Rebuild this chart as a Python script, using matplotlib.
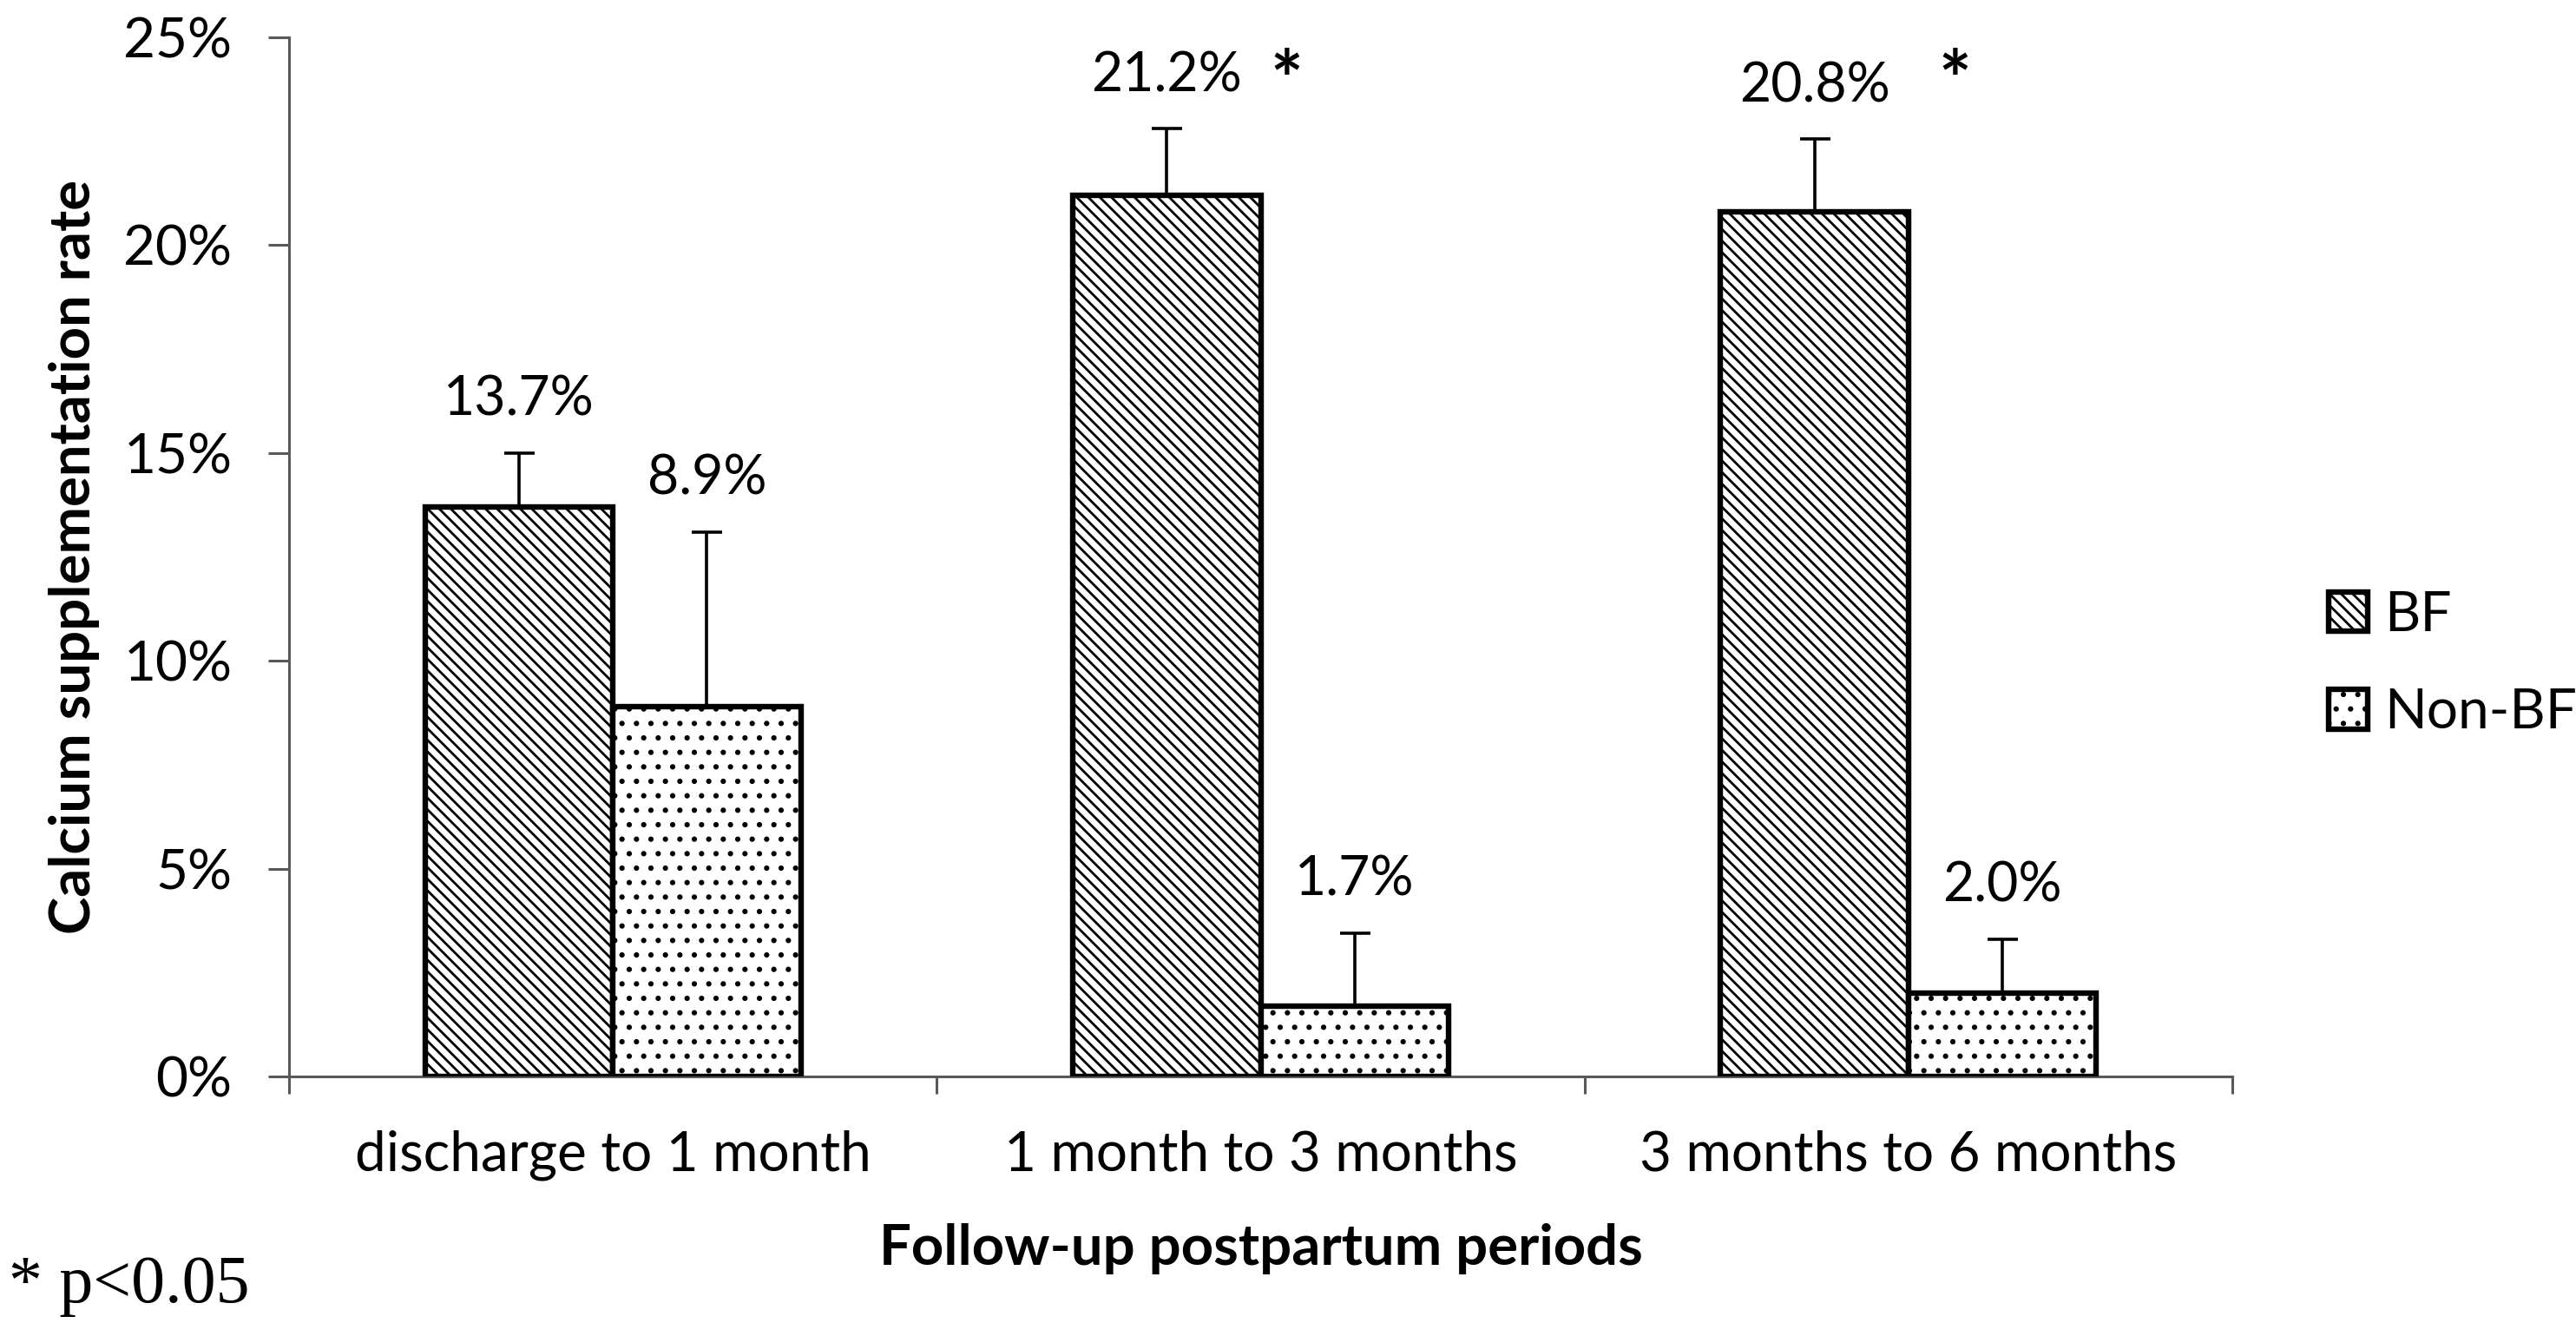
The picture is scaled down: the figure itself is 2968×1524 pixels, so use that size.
# Calcium supplementation rate, BF vs Non-BF, by postpartum period
import numpy as np
import matplotlib
matplotlib.use('Agg')
import matplotlib.pyplot as plt

periods = ['discharge to 1 month', '1 month to 3 months', '3 months to 6 months']
bf_rate = [13.7, 21.2, 20.8]
nonbf_rate = [8.9, 1.7, 2.0]
bf_err = [1.3, 1.6, 1.75]
nonbf_err = [4.2, 1.75, 1.3]
significant = [False, True, True]
yticks = [0, 5, 10, 15, 20, 25]

plt.rcParams['font.family'] = ['Lato', 'DejaVu Sans']
plt.rcParams['hatch.linewidth'] = 1.0

FS = 23
FS_VAL = 22.5
FS_BOLD = 23.5
AXIS_GREY = '#595959'

fig = plt.figure(figsize=(14.84, 7.62), dpi=200)
ax = fig.add_axes([0.1122, 0.1864, 0.7544, 0.7854])

x = np.arange(len(periods))
w = 0.29

bars_bf = ax.bar(x - w / 2, bf_rate, w, color='white', edgecolor='black',
                 linewidth=2.3, hatch='\\\\\\\\\\', label='BF', zorder=3)
bars_nbf = ax.bar(x + w / 2, nonbf_rate, w, color='white', edgecolor='black',
                  linewidth=2.3, hatch='..', label='Non-BF', zorder=3)

# upper error bars only
ax.errorbar(x - w / 2, bf_rate, yerr=[np.zeros(3), bf_err], fmt='none',
            ecolor='black', elinewidth=1.3, capsize=6.3, capthick=1.3, zorder=2)
ax.errorbar(x + w / 2, nonbf_rate, yerr=[np.zeros(3), nonbf_err], fmt='none',
            ecolor='black', elinewidth=1.3, capsize=6.3, capthick=1.3, zorder=2)

# value labels above the error bars
for xs, vals, errs in [(x - w / 2, bf_rate, bf_err), (x + w / 2, nonbf_rate, nonbf_err)]:
    for xi, v, e in zip(xs, vals, errs):
        ax.text(xi, v + e + 0.9, f'{v:.1f}%', ha='center', va='baseline', fontsize=FS_VAL)

star_shift = {1: 0.04, 2: 0.072}
for i, sig in enumerate(significant):
    if sig:
        ax.text(i + star_shift[i], 23.3, '*', ha='center', va='baseline',
                fontsize=32, fontweight='bold')

ax.set_xlim(-0.5, 2.5)
ax.set_ylim(0, 25)
ax.set_yticks(yticks)
ax.set_yticklabels([f'{t}%' for t in yticks])
ax.set_xticks(x)
ax.set_xticklabels(periods)
ax.set_xticks([-0.5, 0.5, 1.5, 2.5], minor=True)

for s in ['top', 'right']:
    ax.spines[s].set_visible(False)
for s in ['left', 'bottom']:
    ax.spines[s].set_color(AXIS_GREY)
    ax.spines[s].set_linewidth(1.1)

ax.tick_params(axis='y', length=8.6, width=1.1, color=AXIS_GREY, pad=15.0, labelsize=FS)
ax.tick_params(axis='x', which='major', length=0, pad=22.0, labelsize=FS)
ax.tick_params(axis='x', which='minor', length=7.2, width=1.1, color=AXIS_GREY)

ax.set_xlabel('Follow-up postpartum periods', fontsize=FS_BOLD, fontweight='bold')
ax.xaxis.label.set_va('baseline')
ax.xaxis.set_label_coords(0.5, -0.1813)
ax.set_ylabel('Calcium supplementation rate', fontsize=FS_BOLD, fontweight='bold')
ax.yaxis.set_label_coords(-0.0974, 0.5)

ax.legend(handles=[bars_bf, bars_nbf], loc='center left', bbox_to_anchor=(0.904, 0.498),
          bbox_transform=fig.transFigure, frameon=False, fontsize=FS,
          handlelength=0.7, handleheight=0.72, handletextpad=0.3,
          labelspacing=0.85, borderpad=0, borderaxespad=0)

fig.text(0.0034, 0.0157, '* p<0.05', family='Liberation Serif', fontsize=28, va='baseline')

fig.savefig('out.png', dpi=200)
